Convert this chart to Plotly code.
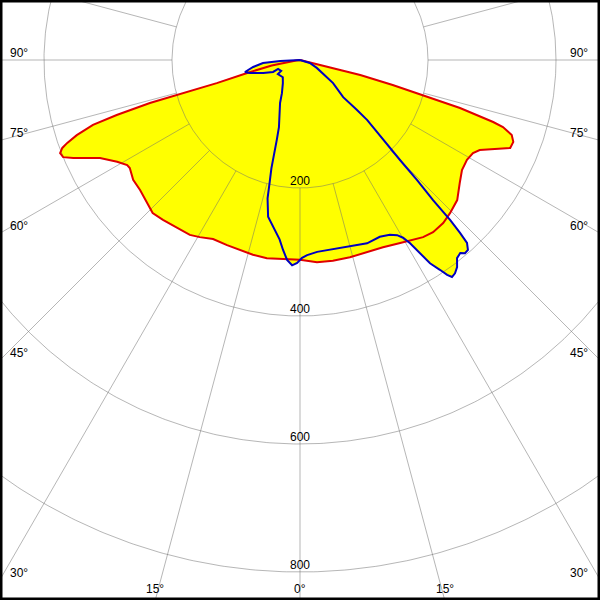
import numpy as np
import plotly.graph_objects as go

# ---- data: luminous intensity vs. gamma angle (deg), negative = left half-plane ----
red_angles = [-90, -84, -79, -76.2, -74.5, -74.1, -74.0, -73.3, -72.6, -71.4, -70.4, -69.7,
              -68.8, -67.7, -66.6, -65.7, -63.9, -60.9, -58.7, -57.6, -54.3, -50.9, -46.9,
              -43.9, -40.6, -36.2, -32.2, -29.5, -25.9, -21.5, -17.5, -13.6, -9.5, -5.7, 0,
              4.8, 9.3, 14.2, 19.2, 23.9, 28.7, 32.1, 34.8, 37.7, 41.3, 44.4, 48.3, 52.4,
              55.8, 59.1, 61.7, 63.4, 65.2, 67.3, 69.0, 70.5, 71.7, 72.2, 73.3, 74.1, 74.9,
              76.0, 78.7, 90]
red_values = [0, 6, 45, 85, 135, 200, 244, 299, 339, 368, 386, 396,
              402, 400, 386, 372, 348, 327, 316, 315, 321, 322, 327,
              332, 329, 325, 323, 318, 311, 311, 311, 313, 314, 312, 312,
              317, 318, 318, 318, 320, 326, 332, 337, 340, 339, 335, 329, 315,
              306, 304, 307, 314, 332, 356, 357, 351, 334, 317, 261, 200, 150,
              97, 16, 0]

blue_angles = [-90, -87.1, -85.4, -81.5, -77.7, -75.4, -70.6, -66.0, -67.8, -59.9, -57.5,
               -45, -36.5, -28.6, -24.9, -20.7, -17.4, -16.2, -15.6, -14.8, -14.0, -13.2,
               -11.5, -9.2, -6.5, -5.1, -3.7, -2.2, -0.8, 0.6, 2.1, 5.1, 9.9, 15.0, 20.1,
               24.3, 27.2, 29.0, 30.1, 31.0, 31.9, 32.6, 33.7, 34.4, 35.0, 36.0, 37.2, 38.4,
               39.7, 40.5, 41.5, 42.4, 42.8, 43.2, 43.5, 44.3, 45.0, 46.5, 48.2, 48.7, 49.3,
               55.1, 60.5, 64.8, 73.3, 90]
blue_values = [0, 31, 58, 74, 88, 81, 61, 46, 37, 34, 41,
               38, 45, 59, 74, 89, 110, 130, 150, 175, 195, 222,
               250, 264, 282, 298, 313, 321, 317, 309, 305, 301, 300, 302, 305,
               303, 307, 313, 321, 334, 355, 377, 394, 407, 414, 412, 406, 395,
               392, 397, 396, 387, 368, 343, 302, 262, 221, 178, 141, 118, 89,
               63, 41, 29, 16, 0]

ring_values = [200, 400, 600, 800]
ring_labels = ["200", "400", "600", "800"]
side_label_angles = [90, 75, 60, 45, 30]
bottom_label_angles = [-15, 0, 15]
spoke_angles = list(range(-105, 106, 15))

# ---- geometry ----
XMAX = 468.75
YTOP = 93.75
YBOT = -843.75


def to_xy(ang, val):
    a = np.radians(np.asarray(ang, dtype=float))
    v = np.asarray(val, dtype=float)
    return v * np.sin(a), -v * np.cos(a)


def closed(x, y):
    return np.append(x, x[0]), np.append(y, y[0])


YELLOW = "#ffff00"
RED = "#e00000"
BLUE = "#0000c0"
GRID = "rgba(110,110,110,0.5)"

fig = go.Figure()

rx, ry = to_xy(red_angles, red_values)
bx, by = to_xy(blue_angles, blue_values)

for x, y in [(bx, by), (rx, ry)]:
    cx, cy = closed(x, y)
    fig.add_trace(go.Scatter(x=cx, y=cy, mode="lines", fill="toself", fillcolor=YELLOW,
                             line=dict(width=0, color=YELLOW), hoverinfo="skip",
                             showlegend=False))

# grid circles
t = np.linspace(0, 2 * np.pi, 721)
gx, gy = [], []
for r in ring_values:
    gx += list(r * np.cos(t)) + [None]
    gy += list(r * np.sin(t)) + [None]
# spokes from the first ring outward
for a in spoke_angles:
    x0, y0 = to_xy(a, ring_values[0])
    x1, y1 = to_xy(a, 2000)
    gx += [float(x0), float(x1), None]
    gy += [float(y0), float(y1), None]
fig.add_trace(go.Scatter(x=gx, y=gy, mode="lines", line=dict(color=GRID, width=1),
                         hoverinfo="skip", showlegend=False))

fig.add_trace(go.Scatter(x=rx, y=ry, mode="lines", line=dict(color=RED, width=2),
                         hoverinfo="skip", showlegend=False))
fig.add_trace(go.Scatter(x=bx, y=by, mode="lines", line=dict(color=BLUE, width=2),
                         hoverinfo="skip", showlegend=False))

FONT = dict(family="Liberation Sans, Arial, sans-serif", size=12, color="black")
ann = []
for r, lab in zip(ring_values, ring_labels):
    ann.append(dict(x=0, y=-r, xref="x", yref="y", text=lab, showarrow=False,
                    xanchor="center", yanchor="middle", yshift=7, font=FONT, borderpad=0))
for a in side_label_angles:
    ya = -XMAX * np.cos(np.radians(a)) / np.sin(np.radians(a))
    ann.append(dict(x=0, y=float(ya), xref="paper", yref="y", text=f"{a}°", showarrow=False,
                    xanchor="left", yanchor="middle", xshift=9, yshift=7, font=FONT, borderpad=0))
    ann.append(dict(x=1, y=float(ya), xref="paper", yref="y", text=f"{a}°", showarrow=False,
                    xanchor="right", yanchor="middle", xshift=-11, yshift=7, font=FONT, borderpad=0))
for a in bottom_label_angles:
    xa = -YBOT * np.tan(np.radians(a))
    ann.append(dict(x=float(xa), y=0, xref="x", yref="paper", text=f"{abs(a)}°", showarrow=False,
                    xanchor="center", yanchor="middle", yshift=11, font=FONT, borderpad=0))

fig.update_layout(
    width=600, height=600,
    margin=dict(l=0, r=0, t=0, b=0),
    paper_bgcolor="white", plot_bgcolor="white",
    xaxis=dict(range=[-XMAX, XMAX], visible=False, fixedrange=True),
    yaxis=dict(range=[YBOT, YTOP], visible=False, fixedrange=True),
    annotations=ann,
    shapes=[dict(type="rect", xref="paper", yref="paper", x0=0, y0=0, x1=1, y1=1,
                 line=dict(color="black", width=5), layer="above")],
    showlegend=False,
)

fig.write_html(
    "out.html",
    config={"displayModeBar": False, "staticPlot": True},
    post_script="document.documentElement.style.margin='0';document.body.style.margin='0';"
                "document.body.style.padding='0';document.body.style.overflow='hidden';",
)
